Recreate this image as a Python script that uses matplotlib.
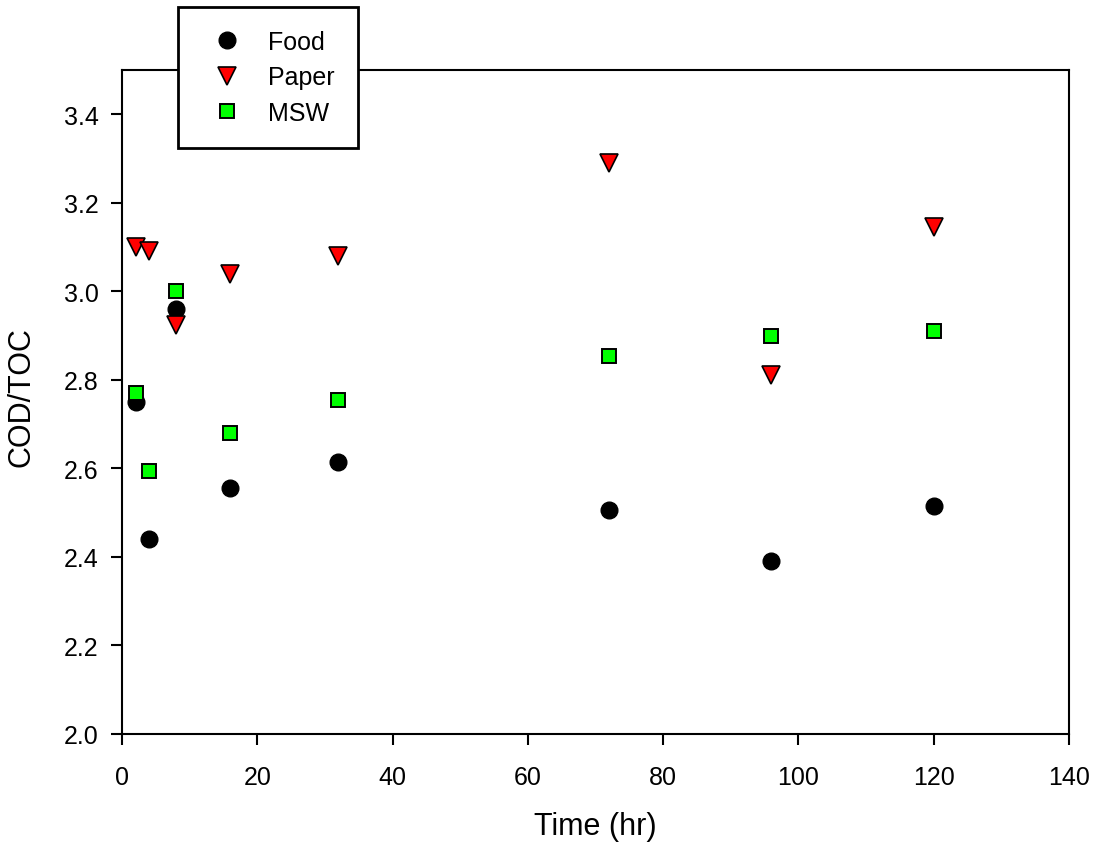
import matplotlib
matplotlib.use("Agg")
import matplotlib.pyplot as plt

plt.rcParams['font.family'] = ['Liberation Sans', 'DejaVu Sans']

time_hr = [2, 4, 8, 16, 32, 72, 96, 120]
food = [2.75, 2.44, 2.96, 2.555, 2.615, 2.505, 2.39, 2.515]
paper = [3.10, 3.09, 2.925, 3.04, 3.08, 3.29, 2.81, 3.145]
msw = [2.77, 2.595, 3.00, 2.68, 2.755, 2.855, 2.90, 2.91]

xticks = [0, 20, 40, 60, 80, 100, 120, 140]
yticks = [2.0, 2.2, 2.4, 2.6, 2.8, 3.0, 3.2, 3.4]

fig = plt.figure(figsize=(10.94, 8.45), dpi=100)
ax = fig.add_axes([122/1094, 110/845, 947/1094, 664/845])

ax.plot(time_hr, food, linestyle='none', marker='o', markersize=12,
        markerfacecolor='black', markeredgecolor='black', label='Food', zorder=3)
ax.plot(time_hr, paper, linestyle='none', marker='v', markersize=12.5,
        markerfacecolor='#ff0000', markeredgecolor='black', markeredgewidth=1.2,
        label='Paper', zorder=3)
ax.plot(time_hr, msw, linestyle='none', marker='s', markersize=10.5,
        markerfacecolor='#00ff00', markeredgecolor='black', markeredgewidth=1.4,
        label='MSW', zorder=4)

ax.set_xlim(0, 140)
ax.set_ylim(2.0, 3.5)
ax.set_xticks(xticks)
ax.set_yticks(yticks)
ax.set_xticklabels([str(v) for v in xticks])
ax.set_yticklabels([f"{v:.1f}" for v in yticks])
ax.tick_params(direction='out', length=8, width=1.5, labelsize=18)
ax.tick_params(axis='y', pad=9)
ax.tick_params(axis='x', pad=14)
for s in ax.spines.values():
    s.set_linewidth(1.5)

fig.text(595/1094, 1 - 835/845, 'Time (hr)', ha='center', va='baseline', fontsize=22)
fig.text(22/1094, 1 - 397/845, 'COD/TOC', ha='center', va='center', fontsize=22, rotation=90)

leg = ax.legend(loc='upper left', bbox_to_anchor=(178/1094, 1 - 8/845),
                bbox_transform=fig.transFigure, fontsize=18, frameon=True,
                fancybox=False, edgecolor='black', borderpad=0.92,
                handletextpad=0.6, labelspacing=0.46, borderaxespad=0,
                handlelength=2.1, framealpha=1)
leg.get_frame().set_linewidth(2)
leg.set_zorder(10)

fig.savefig('out.png', dpi=100, facecolor='white')
